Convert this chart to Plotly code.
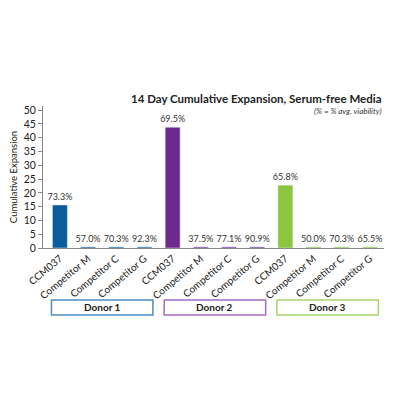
import plotly.graph_objects as go

labels = ["CCM037", "Competitor M", "Competitor C", "Competitor G"] * 3
expansion = [15.6, 0.4, 0.4, 0.4, 43.8, 0.4, 0.4, 0.4, 22.8, 0.4, 0.4, 0.4]
viability = ["73.3%", "57.0%", "70.3%", "92.3%",
             "69.5%", "37.5%", "77.1%", "90.9%",
             "65.8%", "50.0%", "70.3%", "65.5%"]
donors = ["Donor 1", "Donor 2", "Donor 3"]
donor_colors = ["#0b5c9c", "#6c2a8c", "#8cc63f"]
box_colors = ["#4a8ec8", "#a36cc0", "#a6d46a"]

colors = [c for c in donor_colors for _ in range(4)]
xs = list(range(len(labels)))

fig = go.Figure(go.Bar(
    x=xs, y=expansion, width=0.53, marker_color=colors,
    text=viability, textposition="outside", cliponaxis=False,
    textfont=dict(size=9, color="#333"),
))

# page body has an 8px margin, so the plot is laid out 8px up/left
for i, name in enumerate(donors):
    x0 = i * 4 - 0.3
    fig.add_shape(type="rect", xref="x", yref="paper", x0=x0, x1=x0 + 3.6,
                  y0=-0.472, y1=-0.366, line=dict(color=box_colors[i], width=1.5))
    fig.add_annotation(x=x0 + 1.8, y=-0.419, xref="x", yref="paper",
                       xanchor="center", yanchor="middle",
                       text="<b>" + name + "</b>", showarrow=False,
                       font=dict(size=10, color="#222"))

fig.add_annotation(text="<b>14 Day Cumulative Expansion, Serum-free Media</b>",
                   xref="paper", yref="paper", x=1.0, y=1.05, xanchor="right",
                   yanchor="middle", showarrow=False,
                   font=dict(size=11.5, color="#222"))
fig.add_annotation(text="<i>(% = % avg. viability)</i>",
                   xref="paper", yref="paper", x=1.0, y=0.965, xanchor="right",
                   yanchor="middle", showarrow=False,
                   font=dict(size=8, color="#333"))

fig.update_layout(
    width=400, height=400,
    margin=dict(l=35, r=24, t=98, b=160),
    paper_bgcolor="white", plot_bgcolor="white",
    font=dict(family="Lato, sans-serif", color="#333"),
    showlegend=False,
    uniformtext=dict(minsize=9, mode="show"),
    xaxis=dict(tickmode="array", tickvals=xs, ticktext=labels, tickangle=-40,
               range=[-0.6, 11.5], showline=True, linecolor="#888",
               ticks="", tickfont=dict(size=10, color="#222"), automargin=False),
    yaxis=dict(range=[0, 51.5], dtick=5, showgrid=False, zeroline=False,
               showline=True, linecolor="#888", ticks="outside", ticklen=4,
               tickcolor="#888", tickfont=dict(size=10.5, color="#222"),
               automargin=False,
               title=dict(text="Cumulative Expansion", font=dict(size=9.5, color="#222"),
                          standoff=4)),
)

fig.write_html("out.html")
